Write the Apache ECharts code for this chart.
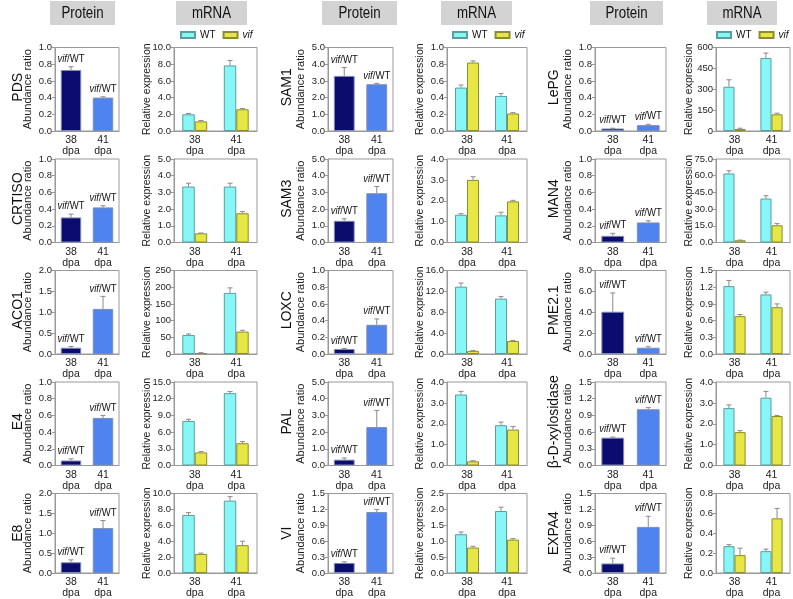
<!DOCTYPE html>
<html>
<head>
<meta charset="utf-8">
<script src="https://cdn.jsdelivr.net/npm/echarts@6/dist/echarts.min.js"></script>
<style>
  body { margin: 0; background: #fff; }
  #main { width: 793px; height: 599px; }
</style>
</head>
<body>
<div id="main"></div>
<script>
// values, one entry per gene (column by column, top to bottom)
const genes = ['PDS', 'CRTISO', 'ACO1', 'E4', 'E8',
               'SAM1', 'SAM3', 'LOXC', 'PAL', 'VI',
               'LePG', 'MAN4', 'PME2.1', 'β-D-xylosidase', 'EXPA4'];
const stages = ['38\ndpa', '41\ndpa'];
const headerNames = ['Protein', 'mRNA'];
const seriesNames = ['WT', 'vif'];

// protein: vif/WT abundance ratio at 38 and 41 dpa
const proteinMean = [[0.73, 0.40], [0.30, 0.42], [0.15, 1.08], [0.06, 0.57], [0.27, 1.13],
                     [3.30, 2.80], [1.30, 2.95], [0.06, 0.35], [0.35, 2.30], [0.19, 1.15],
                     [0.03, 0.07], [0.08, 0.24], [4.05, 0.60], [0.50, 1.01], [0.18, 0.87]];
const proteinErr = [[0.04, 0.01], [0.04, 0.02], [0.03, 0.30], [0.02, 0.03], [0.06, 0.19],
                    [0.50, 0.05], [0.12, 0.40], [0.005, 0.07], [0.10, 1.00], [0.02, 0.05],
                    [0.003, 0.01], [0.03, 0.02], [1.80, 0.10], [0.01, 0.03], [0.10, 0.20]];
const proteinMax = [1.0, 1.0, 2.0, 1.0, 2.0, 5.0, 5.0, 1.0, 5.0, 1.5, 1.0, 1.0, 8.0, 1.5, 1.5];
const proteinStep = [0.2, 0.2, 0.5, 0.2, 0.5, 1.0, 1.0, 0.2, 1.0, 0.3, 0.2, 0.2, 2.0, 0.3, 0.3];

// mRNA: relative expression, WT and vif at 38 and 41 dpa
const wtMean = [[2.0, 7.85], [3.35, 3.35], [57, 183], [8.0, 13.0], [7.3, 9.1],
                [0.52, 0.42], [1.33, 1.30], [12.9, 10.6], [3.40, 1.93], [1.22, 1.95],
                [318, 525], [62.0, 39.5], [1.22, 1.07], [2.75, 3.25], [0.27, 0.22]];
const wtErr = [[0.1, 0.6], [0.2, 0.2], [3, 15], [0.3, 0.3], [0.3, 0.5],
               [0.03, 0.03], [0.05, 0.15], [0.7, 0.4], [0.15, 0.15], [0.07, 0.12],
               [50, 35], [2.5, 2.5], [0.10, 0.04], [0.15, 0.30], [0.015, 0.02]];
const vifMean = [[1.15, 2.6], [0.55, 1.75], [3, 67], [2.35, 4.0], [2.4, 3.5],
                 [0.82, 0.21], [3.0, 1.97], [0.6, 2.5], [0.20, 1.72], [0.80, 1.05],
                 [15, 120], [2.0, 15.5], [0.68, 0.84], [1.60, 2.37], [0.18, 0.55]];
const vifErr = [[0.1, 0.1], [0.02, 0.1], [1, 4], [0.15, 0.3], [0.1, 0.5],
                [0.02, 0.01], [0.15, 0.05], [0.05, 0.1], [0.03, 0.15], [0.04, 0.03],
                [5, 8], [0.2, 1.5], [0.03, 0.06], [0.07, 0.03], [0.07, 0.10]];
const mrnaMax = [10, 5, 250, 15, 10, 1.0, 4, 16, 4, 2.5, 600, 75, 1.5, 4, 0.8];
const mrnaStep = [2, 1, 50, 3, 2, 0.2, 1, 4, 1, 0.5, 150, 15, 0.3, 1, 0.2];
const mrnaDecimals = [1, 1, 0, 1, 1, 1, 1, 1, 1, 1, 0, 1, 1, 1, 1];

// layout
const FONT = 'Liberation Sans, Arial, sans-serif';
const SQUEEZE = 0.83;   // horizontal text in the figure is slightly condensed
const protX = [[55, 119], [328, 393], [595, 666]];
const mrnaX = [[174, 257], [447, 527], [716, 790]];
const rowTop = [47.5, 159, 270.5, 382, 493.5];
const rowH = 83.5;
const geneX = [18.5, 287, 554];
const headerBox = [[50, 115], [176, 247], [322, 397], [441, 512], [590, 663], [707, 777]];
const legendLeft = [180, 452, 716];

const NAVY = '#0c0c6e', BLUE = '#4f84f0', CYAN = '#86f6f6', YELLOW = '#e6e644';
const MRNA_BAR = 0.30;

const chart = echarts.init(document.getElementById('main'));

const grids = [], xAxes = [], yAxes = [], series = [], graphics = [], legends = [];

function axisPair(idx, max, step, dec, name, nameSize, nameGap) {
  xAxes.push({
    gridIndex: idx, type: 'category', data: stages,
    axisLine: { lineStyle: { color: '#999' } },
    axisTick: { length: 3, lineStyle: { color: '#999' } },
    axisLabel: { color: '#222', fontSize: 10.5, fontFamily: FONT, lineHeight: 11, margin: 4 }
  });
  yAxes.push({
    gridIndex: idx, type: 'value', min: 0, max: max, interval: step,
    name: name, nameLocation: 'middle', nameGap: nameGap, nameMoveOverlap: false,
    nameTextStyle: { color: '#222', fontSize: nameSize, fontFamily: FONT },
    splitLine: { show: false },
    axisLine: { show: true, lineStyle: { color: '#999' } },
    axisTick: { show: true, length: 3, lineStyle: { color: '#999' } },
    axisLabel: { color: '#222', fontSize: 9.5, fontFamily: FONT, margin: 3,
                 formatter: v => v.toFixed(dec) }
  });
}

function protErr(params, api) {
  const c = api.value(0), m = api.value(1), e = api.value(2);
  const base = api.coord([c, m]);
  const top = api.coord([c, m + e]);
  const st = { stroke: '#8a8a8a', lineWidth: 1 };
  return {
    type: 'group',
    children: [
      { type: 'line', shape: { x1: base[0], y1: base[1], x2: top[0], y2: top[1] }, style: st },
      { type: 'line', shape: { x1: top[0] - 2.5, y1: top[1], x2: top[0] + 2.5, y2: top[1] }, style: st },
      { type: 'text', x: top[0], y: top[1] - 2, scaleX: SQUEEZE,
        style: { text: '{i|vif}/WT', align: 'center', verticalAlign: 'bottom',
                 fontSize: 11.5, fontFamily: FONT, fill: '#111',
                 rich: { i: { fontStyle: 'italic', fontSize: 11.5, fontFamily: FONT } } } }
    ]
  };
}

function mrnaErr(params, api) {
  const c = api.value(0), m = api.value(1), e = api.value(2), side = api.value(3);
  const band = api.size([1, 0])[0];
  const dx = side * band * MRNA_BAR / 2;
  const base = api.coord([c, m]);
  const top = api.coord([c, m + e]);
  const x = base[0] + dx;
  const st = { stroke: '#8a8a8a', lineWidth: 1 };
  return {
    type: 'group',
    children: [
      { type: 'line', shape: { x1: x, y1: base[1], x2: x, y2: top[1] }, style: st },
      { type: 'line', shape: { x1: x - 2.5, y1: top[1], x2: x + 2.5, y2: top[1] }, style: st }
    ]
  };
}

genes.forEach((g, i) => {
  const col = Math.floor(i / 5), row = i % 5;
  const top = rowTop[row];

  // protein panel
  const pi = grids.length;
  grids.push({ left: protX[col][0], top: top, width: protX[col][1] - protX[col][0], height: rowH,
               show: true, borderColor: '#999', borderWidth: 1, backgroundColor: 'transparent' });
  axisPair(pi, proteinMax[i], proteinStep[i], 1, 'Abundance ratio', 11, 22);
  series.push({
    type: 'bar', xAxisIndex: pi, yAxisIndex: pi, barWidth: '64%',
    data: proteinMean[i].map((v, k) => ({ value: v,
      itemStyle: { color: k === 0 ? NAVY : BLUE, borderColor: '#7d8cb4', borderWidth: 1 } }))
  });
  series.push({
    type: 'custom', xAxisIndex: pi, yAxisIndex: pi, renderItem: protErr, z: 5,
    data: proteinMean[i].map((v, k) => [k, v, proteinErr[i][k]])
  });

  // mRNA panel
  const mi = grids.length;
  grids.push({ left: mrnaX[col][0], top: top, width: mrnaX[col][1] - mrnaX[col][0], height: rowH,
               show: true, borderColor: '#999', borderWidth: 1, backgroundColor: 'transparent' });
  axisPair(mi, mrnaMax[i], mrnaStep[i], mrnaDecimals[i], 'Relative expression', 10.5,
           col === 2 ? 21.5 : 21);
  series.push({
    name: seriesNames[0], type: 'bar', xAxisIndex: mi, yAxisIndex: mi,
    barWidth: (MRNA_BAR * 100) + '%', barGap: '0%',
    itemStyle: { color: CYAN, borderColor: '#5b9e9e', borderWidth: 1 },
    data: wtMean[i]
  });
  series.push({
    name: seriesNames[1], type: 'bar', xAxisIndex: mi, yAxisIndex: mi,
    barWidth: (MRNA_BAR * 100) + '%', barGap: '0%',
    itemStyle: { color: YELLOW, borderColor: '#8c8c2c', borderWidth: 1 },
    data: vifMean[i]
  });
  series.push({
    type: 'custom', xAxisIndex: mi, yAxisIndex: mi, renderItem: mrnaErr, z: 5,
    data: wtMean[i].map((v, k) => [k, v, wtErr[i][k], -1])
      .concat(vifMean[i].map((v, k) => [k, v, vifErr[i][k], 1]))
  });

  // gene name
  graphics.push({
    type: 'text', x: geneX[col], y: top + rowH / 2 - 2, rotation: Math.PI / 2,
    style: { text: g, align: 'center', verticalAlign: 'middle',
             fontSize: 14, fontFamily: FONT, fill: '#111' }
  });
});

// column headers
headerBox.forEach((b, k) => {
  graphics.push({ type: 'rect', shape: { x: b[0], y: 1, width: b[1] - b[0], height: 24 },
                  style: { fill: '#d3d3d3' } });
  graphics.push({ type: 'text', x: (b[0] + b[1]) / 2, y: 13.5, scaleX: SQUEEZE,
                  style: { text: headerNames[k % 2], align: 'center', verticalAlign: 'middle',
                           fontSize: 16, fontFamily: FONT, fill: '#111' } });
});

// legends above the first mRNA panel of each column
legendLeft.forEach(x => {
  legends.push({
    left: x, top: 30, width: 120, padding: 0,
    itemWidth: 14, itemHeight: 6, itemGap: 7,
    data: seriesNames, icon: 'rect', selectedMode: false,
    formatter: n => n === 'vif' ? '{i|vif}' : n,
    textStyle: { fontSize: 10, fontFamily: FONT, color: '#111',
                 rich: { i: { fontStyle: 'italic', fontSize: 10, fontFamily: FONT } } }
  });
});

chart.setOption({
  animation: false,
  grid: grids,
  xAxis: xAxes,
  yAxis: yAxes,
  legend: legends,
  series: series,
  graphic: graphics
});
</script>
</body>
</html>
